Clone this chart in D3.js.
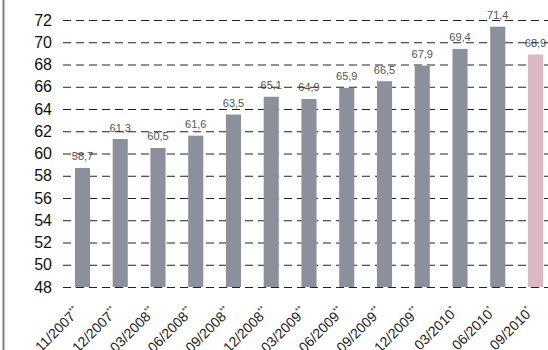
<!DOCTYPE html>
<html>
<head>
<meta charset="utf-8">
<script src="https://cdn.jsdelivr.net/npm/d3@7"></script>
<style>
  html, body { margin: 0; padding: 0; background: #fff; }
  svg { display: block; }
</style>
</head>
<body>
<svg id="chart" width="548" height="350"></svg>
<script>
// Quarterly periods and their values
const periods = ["11/2007", "12/2007", "03/2008", "06/2008", "09/2008", "12/2008",
                 "03/2009", "06/2009", "09/2009", "12/2009", "03/2010", "06/2010", "09/2010"];
const marks = ["**", "**", "**", "**", "**", "**", "**", "**", "**", "**", "*", "*", "*"];
const values = [58.7, 61.3, 60.5, 61.6, 63.5, 65.1, 64.9, 65.9, 66.5, 67.9, 69.4, 71.4, 68.9];
const valueLabels = ["58,7", "61,3", "60,5", "61,6", "63,5", "65,1", "64,9", "65,9", "66,5", "67,9", "69,4", "71,4", "68,9"];
const yTicks = [48, 50, 52, 54, 56, 58, 60, 62, 64, 66, 68, 70, 72];

const svg = d3.select("#chart");
const narrow = "'Liberation Sans Narrow', 'Arial Narrow', 'Liberation Sans', Arial, sans-serif";
const regular = "'Liberation Sans', Arial, sans-serif";

const x = d3.scaleBand().domain(periods).range([63.6, 554.4]).paddingInner(0.6).paddingOuter(0.3);
const y = d3.scaleLinear().domain([48, 72]).range([287, 20]);

// frame line on the left
svg.append("line")
  .attr("x1", 3.5).attr("x2", 3.5).attr("y1", 0).attr("y2", 350)
  .attr("stroke", "#808080").attr("stroke-width", 2);

// value labels (drawn under the gridlines)
svg.append("g").selectAll("text").data(values).join("text")
  .attr("x", (d, i) => x(periods[i]) + x.bandwidth() / 2)
  .attr("y", d => y(d) - 7.5)
  .attr("text-anchor", "middle")
  .attr("font-family", regular)
  .attr("font-size", 11)
  .attr("fill", "#555")
  .text((d, i) => valueLabels[i]);

// y axis: tick labels and dashed gridlines
const yAxis = d3.axisLeft(y).tickValues(yTicks).tickSize(-(548 - 63)).tickPadding(11).tickFormat(d3.format("d"));
const gy = svg.append("g").attr("transform", "translate(63,0)").call(yAxis);
gy.select(".domain").remove();
gy.selectAll(".tick line")
  .attr("stroke", "#222").attr("stroke-width", 1).attr("stroke-dasharray", "8,5");
gy.selectAll(".tick text")
  .attr("font-family", narrow).attr("font-size", 16).attr("fill", "#111");

// bars
svg.append("g").selectAll("rect").data(values).join("rect")
  .attr("x", (d, i) => x(periods[i]))
  .attr("width", x.bandwidth())
  .attr("y", d => y(d))
  .attr("height", d => y(48) - y(d))
  .attr("fill", (d, i) => i === values.length - 1 ? "#dbb8c4" : "#8c8f9c");

// rotated period labels
const xl = svg.append("g").selectAll("text").data(periods).join("text")
  .attr("transform", (d) => `translate(${x(d) + x.bandwidth() / 2 - 2},${313}) rotate(-45)`)
  .attr("text-anchor", "end")
  .attr("font-family", narrow)
  .attr("font-size", 14)
  .attr("fill", "#222");
xl.append("tspan").text(d => d);
xl.append("tspan")
  .attr("font-family", regular)
  .attr("font-size", 8)
  .attr("dy", -6)
  .text((d, i) => marks[i]);
</script>
</body>
</html>
